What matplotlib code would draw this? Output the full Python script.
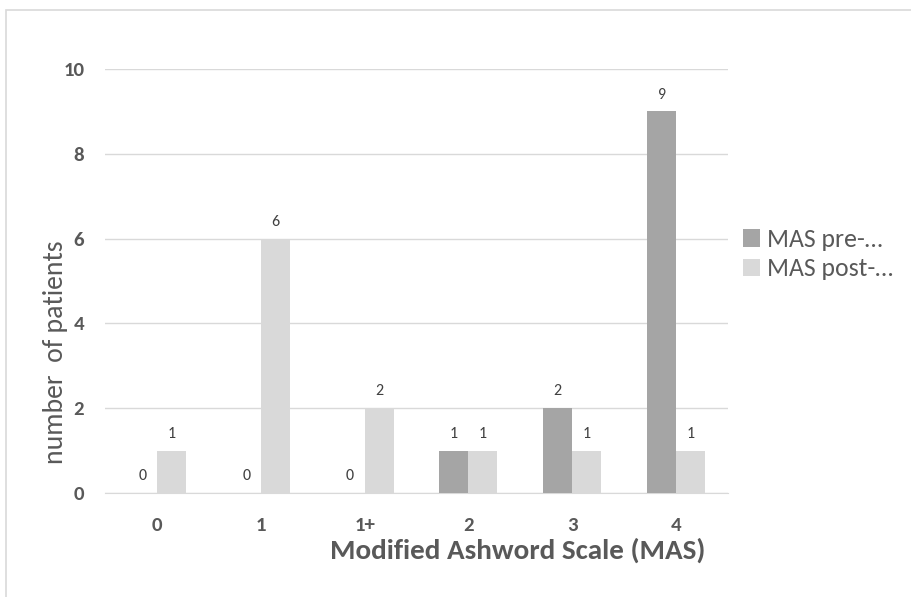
import matplotlib
matplotlib.use("Agg")
import matplotlib.pyplot as plt
import numpy as np
from matplotlib.patches import Rectangle

categories = ["0", "1", "1+", "2", "3", "4"]
pre_values = [0, 0, 0, 1, 2, 9]
post_values = [1, 6, 2, 1, 1, 1]
series_names = ["MAS pre-…", "MAS post-…"]
y_ticks = [0, 2, 4, 6, 8, 10]

plt.rcParams['font.family'] = ['Carlito', 'DejaVu Sans']

fig = plt.figure(figsize=(9.12, 5.97), dpi=100)
W, H = 912, 597
L, R, T, B = 105, 728, 69, 493
ax = fig.add_axes([L / W, 1 - B / H, (R - L) / W, (B - T) / H])

# outer border frame
fig.patches.append(Rectangle((6 / W, -0.1), 1.2, 1 - 10 / H + 0.1, transform=fig.transFigure,
                             fill=False, edgecolor="#d9d9d9", linewidth=1.2))

x = np.arange(len(categories))
bw = 0.28
c_pre = "#a5a5a5"
c_post = "#d9d9d9"
b1 = ax.bar(x - bw / 2, pre_values, bw, color=c_pre, label=series_names[0], zorder=3)
b2 = ax.bar(x + bw / 2, post_values, bw, color=c_post, label=series_names[1], zorder=3)

for bars, vals in ((b1, pre_values), (b2, post_values)):
    for b, v in zip(bars, vals):
        ax.annotate(str(v), (b.get_x() + b.get_width() / 2, v), xytext=(0, 7),
                    textcoords="offset points", ha="center", va="bottom",
                    fontsize=11.5, color="#404040")

ax.set_xlim(-0.5, len(categories) - 0.5)
ax.set_ylim(0, 10)
ax.set_yticks(y_ticks)
ax.set_xticks(x)
ax.set_xticklabels(categories)
for lab in ax.get_xticklabels() + ax.get_yticklabels():
    lab.set_fontweight("bold")
    lab.set_color("#595959")
    lab.set_fontsize(15)
ax.tick_params(axis="both", length=0)
ax.tick_params(axis="y", pad=15)
ax.tick_params(axis="x", pad=17)
ax.grid(axis="y", color="#d9d9d9", linewidth=1, zorder=0)
for s in ["top", "right", "left"]:
    ax.spines[s].set_visible(False)
ax.spines["bottom"].set_color("#d9d9d9")
ax.set_axisbelow(True)

fig.text(68 / W, 1 - 352 / H, "number  of patients", rotation=90, ha="right", va="center",
         fontsize=20, color="#595959")
fig.text(518 / W, 1 - 559 / H, "Modified Ashword Scale (MAS)", ha="center", va="baseline",
         fontsize=21, fontweight="bold", color="#595959")

leg = fig.legend(handles=[b1, b2], labels=series_names, loc="upper left",
                 bbox_to_anchor=(743 / W, 1 - 228 / H), frameon=False, borderaxespad=0,
                 fontsize=18.5, handlelength=0.65, handleheight=0.65, handletextpad=0.3,
                 labelspacing=0.25, labelcolor="#595959", borderpad=0)

fig.savefig("out.png", dpi=100)
